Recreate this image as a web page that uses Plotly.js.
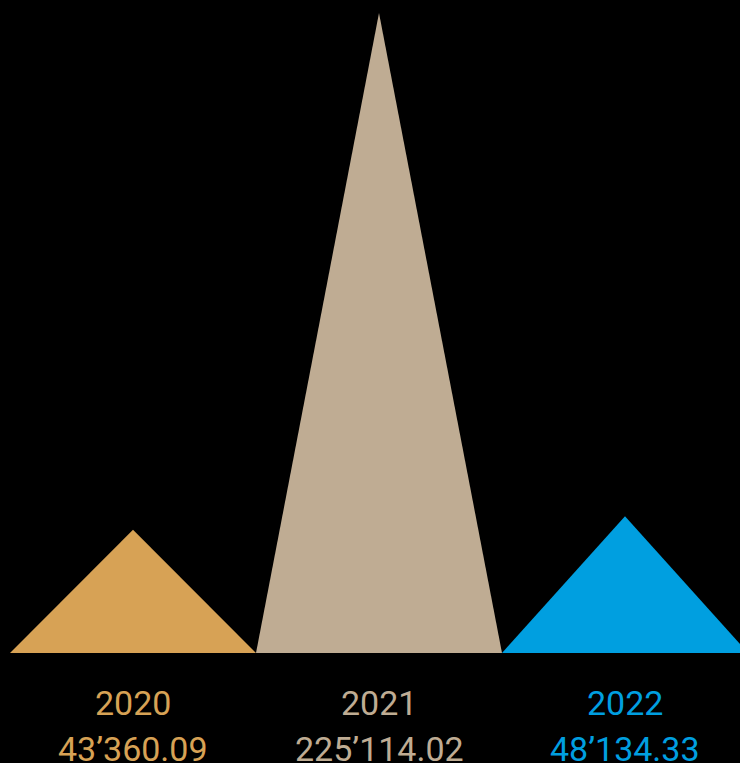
<!DOCTYPE html>
<html>
<head>
<meta charset="utf-8">
<script src="https://cdn.plot.ly/plotly-3.0.1.min.js"></script>
<style>
  html, body { margin: 0; padding: 0; background: #000; }
  #chart { width: 740px; height: 763px; }
</style>
</head>
<body>
<div id="chart"></div>
<script>
const years = ["2020", "2021", "2022"];
const values = [43360.09, 225114.02, 48134.33];
const valueLabels = ["43’360.09", "225’114.02", "48’134.33"];
const colors = ["#D7A255", "#BFAC93", "#009FE0"];

const traces = years.map((yr, i) => ({
  type: "scatter",
  mode: "lines",
  x: [i - 0.5, i, i + 0.5, i - 0.5],
  y: [0, values[i], 0, 0],
  fill: "toself",
  fillcolor: colors[i],
  line: { color: colors[i], width: 0 },
  hoverinfo: "skip",
  showlegend: false
}));

const font = "Roboto, 'DejaVu Sans Condensed', sans-serif";
const annotations = [];
years.forEach((yr, i) => {
  annotations.push({
    x: i, xref: "x", y: 0.078, yref: "paper",
    text: yr, showarrow: false, xanchor: "center", yanchor: "middle",
    font: { family: font, size: 34, color: colors[i] }
  });
  annotations.push({
    x: i, xref: "x", y: 0.019, yref: "paper",
    text: valueLabels[i], showarrow: false, xanchor: "center", yanchor: "middle",
    font: { family: font, size: 34, color: colors[i] }
  });
});

const layout = {
  width: 740, height: 763,
  margin: { l: 0, r: 0, t: 0, b: 0 },
  paper_bgcolor: "#000",
  plot_bgcolor: "#000",
  xaxis: { range: [-0.5407, 2.4675], visible: false, fixedrange: true },
  yaxis: { range: [-38690, 229690], visible: false, fixedrange: true },
  annotations: annotations,
  showlegend: false
};

Plotly.newPlot("chart", traces, layout, { displayModeBar: false, staticPlot: true });
</script>
</body>
</html>
